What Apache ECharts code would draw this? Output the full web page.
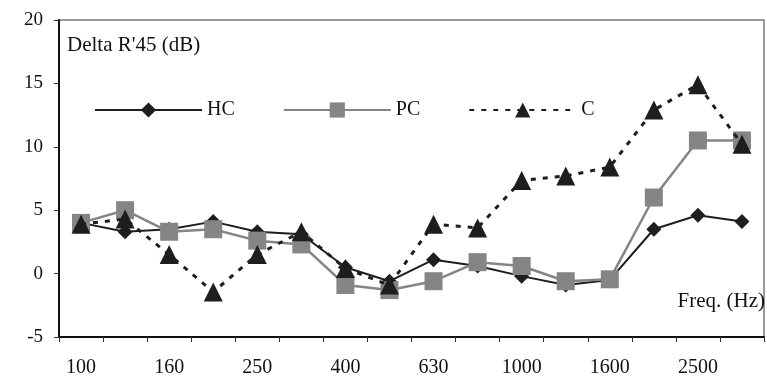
<!DOCTYPE html>
<html>
<head>
<meta charset="utf-8">
<script src="https://cdn.jsdelivr.net/npm/echarts@6/dist/echarts.min.js"></script>
<style>
  html, body { margin: 0; padding: 0; background: #fff; }
  #chart { width: 767px; height: 383px; }
</style>
</head>
<body>
<div id="chart"></div>
<script>
// third-octave bands
const freqs = ["100", "125", "160", "200", "250", "315", "400", "500",
  "630", "800", "1000", "1250", "1600", "2000", "2500", "3150"];

const hcValues = [4.0, 3.3, 3.5, 4.1, 3.3, 3.1, 0.5, -0.6, 1.1, 0.6, -0.2, -0.9, -0.5, 3.5, 4.6, 4.1];
const pcValues = [4.0, 5.0, 3.3, 3.5, 2.6, 2.3, -0.9, -1.3, -0.6, 0.9, 0.6, -0.6, -0.45, 6.0, 10.5, 10.5];
const cValues = [3.9, 4.3, 1.5, -1.45, 1.5, 3.3, 0.4, -0.9, 3.9, 3.6, 7.35, 7.7, 8.4, 12.9, 14.9, 10.2];

const serif = "Liberation Serif";

const chart = echarts.init(document.getElementById("chart"));

const option = {
  animation: false,
  backgroundColor: "#fff",
  grid: {
    left: 59,
    right: 3,
    top: 20,
    bottom: 46,
    show: true,
    borderColor: "#7a7a7a",
    borderWidth: 1.5,
  },
  legend: {
    left: 94,
    top: 100,
    padding: 0,
    itemWidth: 107,
    itemHeight: 19,
    itemGap: 48,
    textStyle: { fontFamily: serif, fontSize: 20, color: "#111" },
    data: ["HC", "PC", "C"],
  },
  xAxis: {
    type: "category",
    data: freqs,
    boundaryGap: true,
    axisLine: { onZero: false, lineStyle: { color: "#111", width: 2 } },
    axisTick: { show: true, interval: 0, length: 5, lineStyle: { color: "#333" } },
    axisLabel: {
      interval: 1,
      margin: 21,
      fontFamily: serif,
      fontSize: 20,
      color: "#111",
    },
    splitLine: { show: false },
  },
  yAxis: {
    type: "value",
    min: -5,
    max: 20,
    interval: 5,
    axisLine: { show: true, lineStyle: { color: "#111", width: 2 } },
    axisTick: { show: true, length: 5, lineStyle: { color: "#333" } },
    axisLabel: { fontFamily: serif, fontSize: 19, color: "#111", margin: 16 },
    splitLine: { show: false },
  },
  graphic: [
    {
      type: "text",
      left: 67,
      top: 35,
      style: { text: "Delta R'45 (dB)", font: "21px " + serif, fill: "#111" },
    },
    {
      type: "text",
      right: 2,
      top: 291,
      style: { text: "Freq. (Hz)", font: "21px " + serif, fill: "#111" },
    },
  ],
  series: [
    {
      name: "HC",
      type: "line",
      data: hcValues,
      symbol: "diamond",
      symbolSize: 15,
      lineStyle: { color: "#1e1e1e", width: 2 },
      itemStyle: { color: "#1e1e1e" },
      z: 2,
    },
    {
      name: "PC",
      type: "line",
      data: pcValues,
      symbol: "rect",
      symbolSize: 18,
      lineStyle: { color: "#858585", width: 2.5 },
      itemStyle: { color: "#858585" },
      z: 3,
    },
    {
      name: "C",
      type: "line",
      data: cValues,
      symbol: "triangle",
      symbolSize: 19,
      lineStyle: { color: "#1e1e1e", width: 3, type: [5, 7] },
      itemStyle: { color: "#1e1e1e" },
      z: 4,
    },
  ],
};

chart.setOption(option);
</script>
</body>
</html>
